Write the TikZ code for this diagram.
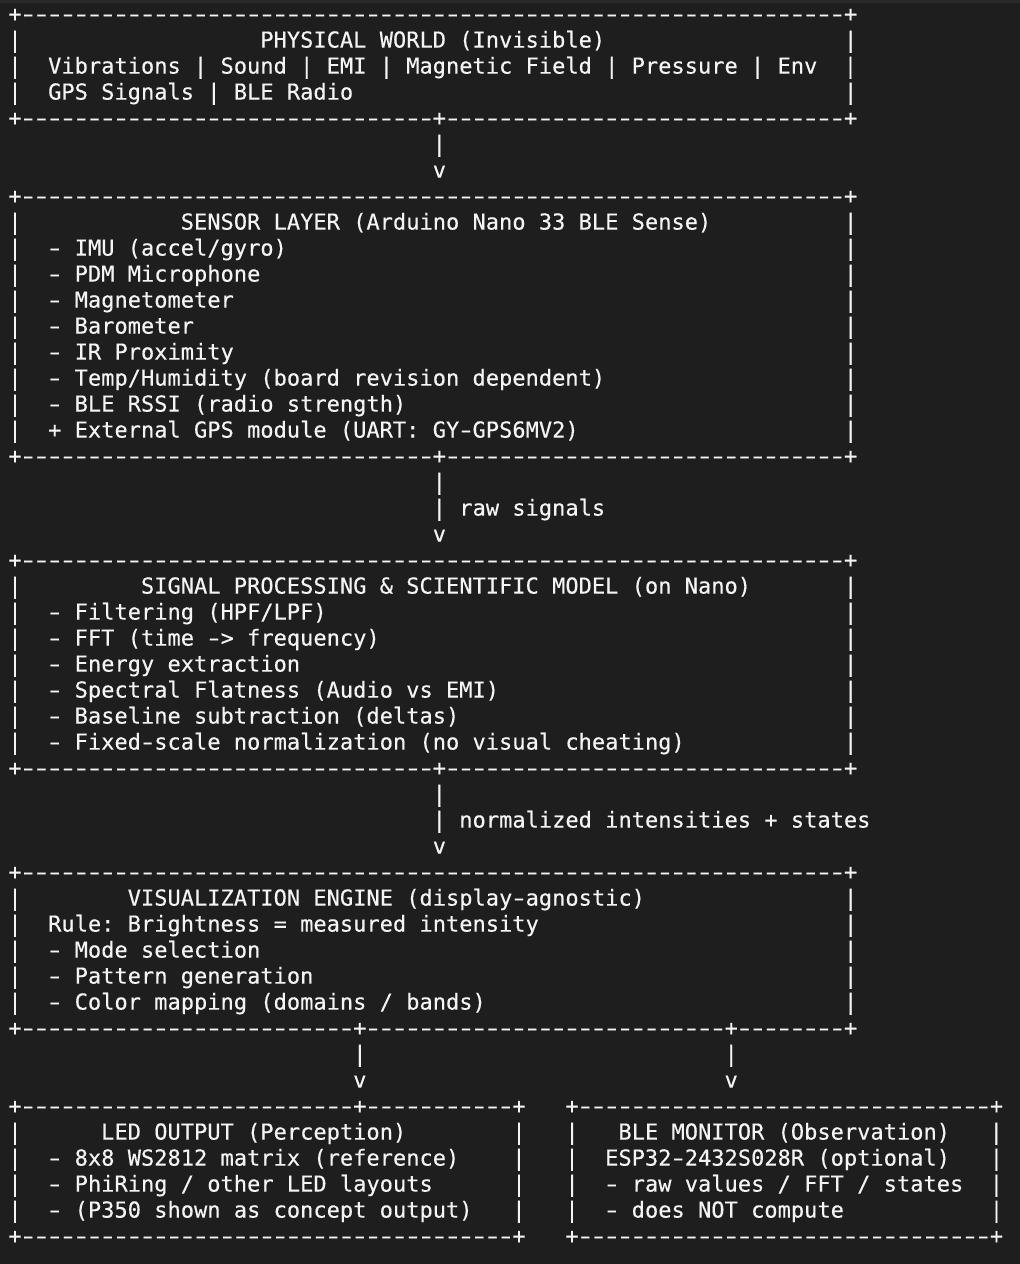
\documentclass[tikz,border=0pt]{standalone}
\usepackage{fontspec}
\usepackage{graphicx}
\setmonofont[FakeBold=0.3]{DejaVu Sans Mono}
\definecolor{bg}{HTML}{1E1E1E}
\definecolor{band}{HTML}{2A2A2A}
\definecolor{fg}{HTML}{F4F4F4}
\ExplSyntaxOn
\cs_new:Npn \asciirep #1#2 { \prg_replicate:nn {#1} {#2} }
\ExplSyntaxOff
\newcommand\hy{\makebox[0.60205em][c]{\scalebox{1.45}[1]{-}}}
\newcommand\asciiline[3]{\node[txt] (#1) at (8.37,{1242.4-#2*26.0}) {#3};}
\tikzset{
  txt/.style={anchor=base west, inner sep=0pt, outer sep=0pt, text=fg,
    font=\ttfamily\fontsize{22.03pt}{26pt}\selectfont}
}
\begin{document}
\begin{tikzpicture}[x=1pt,y=1pt]
\fill[bg] (0,0) rectangle (1020,1264);
\fill[band] (0,1261) rectangle (1020,1264);
\useasboundingbox (0,0) rectangle (1020,1264);
% PHYSICAL WORLD
\asciiline{L0}{0}{+\asciirep{62}{\hy}+}
\asciiline{L1}{1}{|\asciirep{18}{~}PHYSICAL WORLD (Invisible)\asciirep{18}{~}|}
\asciiline{L2}{2}{|~~Vibrations | Sound | EMI | Magnetic Field | Pressure | Env~~|}
\asciiline{L3}{3}{|~~GPS Signals | BLE Radio\asciirep{37}{~}|}
\asciiline{L4}{4}{+\asciirep{31}{\hy}+\asciirep{30}{\hy}+}
\asciiline{L5}{5}{\asciirep{32}{~}|}
\asciiline{L6}{6}{\asciirep{32}{~}v}
% SENSOR LAYER
\asciiline{L7}{7}{+\asciirep{62}{\hy}+}
\asciiline{L8}{8}{|\asciirep{12}{~}SENSOR LAYER (Arduino Nano 33 BLE Sense)\asciirep{10}{~}|}
\asciiline{L9}{9}{|~~\hy{} IMU (accel/gyro)\asciirep{42}{~}|}
\asciiline{L10}{10}{|~~\hy{} PDM Microphone\asciirep{44}{~}|}
\asciiline{L11}{11}{|~~\hy{} Magnetometer\asciirep{46}{~}|}
\asciiline{L12}{12}{|~~\hy{} Barometer\asciirep{49}{~}|}
\asciiline{L13}{13}{|~~\hy{} IR Proximity\asciirep{46}{~}|}
\asciiline{L14}{14}{|~~\hy{} Temp/Humidity (board revision dependent)\asciirep{18}{~}|}
\asciiline{L15}{15}{|~~\hy{} BLE RSSI (radio strength)\asciirep{33}{~}|}
\asciiline{L16}{16}{|~~+ External GPS module (UART: GY\hy{}GPS6MV2)\asciirep{20}{~}|}
\asciiline{L17}{17}{+\asciirep{31}{\hy}+\asciirep{30}{\hy}+}
\asciiline{L18}{18}{\asciirep{32}{~}|}
\asciiline{L19}{19}{\asciirep{32}{~}| raw signals}
\asciiline{L20}{20}{\asciirep{32}{~}v}
% SIGNAL PROCESSING
\asciiline{L21}{21}{+\asciirep{62}{\hy}+}
\asciiline{L22}{22}{|\asciirep{9}{~}SIGNAL PROCESSING \& SCIENTIFIC MODEL (on Nano)\asciirep{7}{~}|}
\asciiline{L23}{23}{|~~\hy{} Filtering (HPF/LPF)\asciirep{39}{~}|}
\asciiline{L24}{24}{|~~\hy{} FFT (time \hy> frequency)\asciirep{35}{~}|}
\asciiline{L25}{25}{|~~\hy{} Energy extraction\asciirep{41}{~}|}
\asciiline{L26}{26}{|~~\hy{} Spectral Flatness (Audio vs EMI)\asciirep{26}{~}|}
\asciiline{L27}{27}{|~~\hy{} Baseline subtraction (deltas)\asciirep{29}{~}|}
\asciiline{L28}{28}{|~~\hy{} Fixed\hy{}scale normalization (no visual cheating)\asciirep{12}{~}|}
\asciiline{L29}{29}{+\asciirep{31}{\hy}+\asciirep{30}{\hy}+}
\asciiline{L30}{30}{\asciirep{32}{~}|}
\asciiline{L31}{31}{\asciirep{32}{~}| normalized intensities + states}
\asciiline{L32}{32}{\asciirep{32}{~}v}
% VISUALIZATION ENGINE
\asciiline{L33}{33}{+\asciirep{62}{\hy}+}
\asciiline{L34}{34}{|\asciirep{8}{~}VISUALIZATION ENGINE (display\hy{}agnostic)\asciirep{15}{~}|}
\asciiline{L35}{35}{|~~Rule: Brightness = measured intensity\asciirep{23}{~}|}
\asciiline{L36}{36}{|~~\hy{} Mode selection\asciirep{44}{~}|}
\asciiline{L37}{37}{|~~\hy{} Pattern generation\asciirep{40}{~}|}
\asciiline{L38}{38}{|~~\hy{} Color mapping (domains / bands)\asciirep{27}{~}|}
\asciiline{L39}{39}{+\asciirep{25}{\hy}+\asciirep{27}{\hy}+\asciirep{8}{\hy}+}
\asciiline{L40}{40}{\asciirep{26}{~}|\asciirep{27}{~}|}
\asciiline{L41}{41}{\asciirep{26}{~}v\asciirep{27}{~}v}
% OUTPUT BOXES
\asciiline{L42}{42}{+\asciirep{25}{\hy}+\asciirep{11}{\hy}+~~~+\asciirep{31}{\hy}+}
\asciiline{L43}{43}{|\asciirep{6}{~}LED OUTPUT (Perception)\asciirep{8}{~}|~~~|~~~BLE MONITOR (Observation)~~~|}
\asciiline{L44}{44}{|~~\hy{} 8x8 WS2812 matrix (reference)~~~~|~~~|~~ESP32\hy{}2432S028R (optional)~~~|}
\asciiline{L45}{45}{|~~\hy{} PhiRing / other LED layouts\asciirep{6}{~}|~~~|~~\hy{} raw values / FFT / states~~|}
\asciiline{L46}{46}{|~~\hy{} (P350 shown as concept output)~~~|~~~|~~\hy{} does NOT compute\asciirep{11}{~}|}
\asciiline{L47}{47}{+\asciirep{37}{\hy}+~~~+\asciirep{31}{\hy}+}
\end{tikzpicture}
\end{document}
